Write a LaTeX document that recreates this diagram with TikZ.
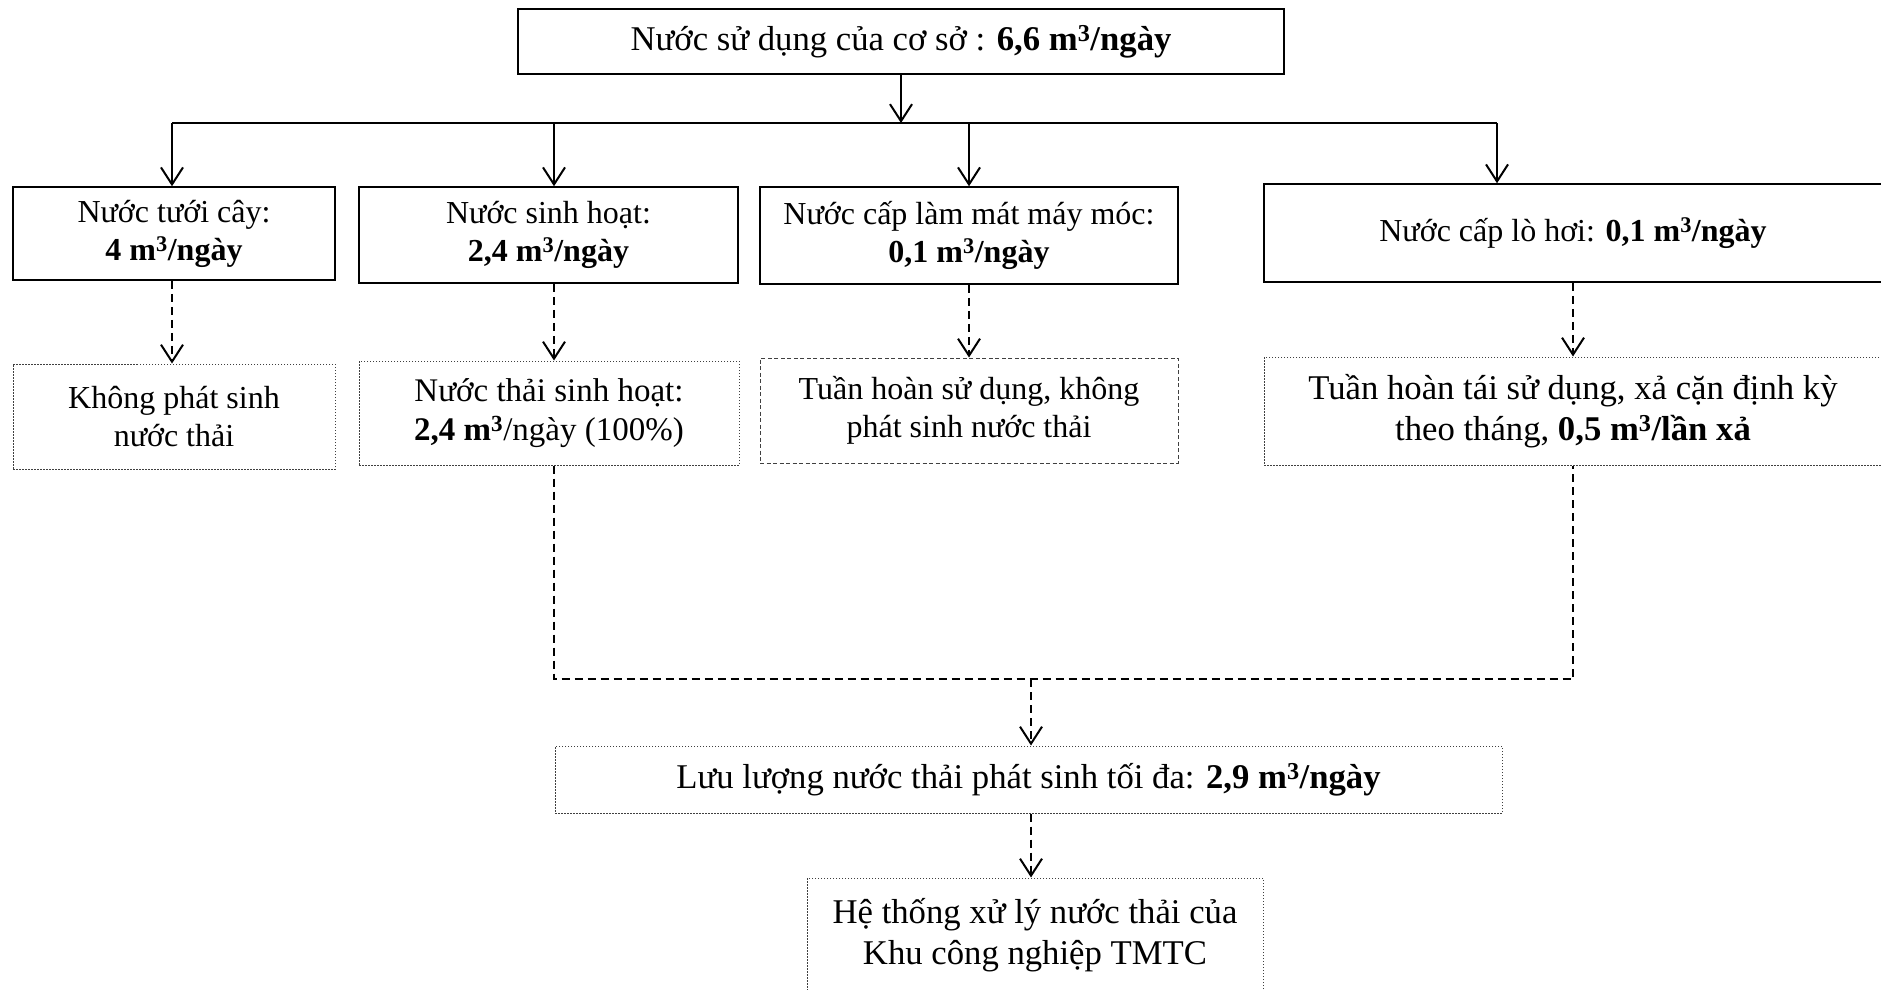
\documentclass[tikz,border=0pt]{standalone}
\usepackage{fontspec}
\setmainfont{Liberation Serif}
\usetikzlibrary{arrows.meta}
\begin{document}
\begin{tikzpicture}[x=1pt,y=-1pt,
  box/.style={draw, line width=1.5pt, inner sep=0pt, align=center,
    font=\fontsize{32}{38}\selectfont},
  big/.style={font=\fontsize{34.7}{41}\selectfont},
  dotbox/.style={box, draw=black!75, line width=1pt, dash pattern=on 1.5pt off 1.5pt},
  dashbox/.style={box, draw=black!75, line width=1pt, dash pattern=on 4pt off 2.5pt},
  conn/.style={line width=2pt},
  dconn/.style={line width=2pt, dash pattern=on 8pt off 5pt},
  tip/.style={-{Straight Barb[length=17pt,width=22pt,line width=2pt]}}]
\useasboundingbox (0,0) rectangle (1881,989);

\node[box, big, minimum width=766, minimum height=65] (top) at (901,41.5)
  {Nước sử dụng của cơ sở : \textbf{6,6 m\textsuperscript{3}/ngày}};

\node[box, minimum width=322, minimum height=93] (b1) at (174,233.5)
  {Nước tưới cây:\\ \textbf{4 m\textsuperscript{3}/ngày}};
\node[box, minimum width=379, minimum height=96] (b2) at (548.5,235)
  {Nước sinh hoạt:\\ \textbf{2,4 m\textsuperscript{3}/ngày}};
\node[box, minimum width=418, minimum height=97] (b3) at (969,235.5)
  {Nước cấp làm mát máy móc:\\ \textbf{0,1 m\textsuperscript{3}/ngày}};
\node[box, minimum width=618, minimum height=98] (b4) at (1573,233)
  {Nước cấp lò hơi: \textbf{0,1 m\textsuperscript{3}/ngày}};

\node[dotbox, minimum width=322, minimum height=105] (b5) at (174,416.5)
  {Không phát sinh\\ nước thải};
\node[dotbox, font=\fontsize{33}{39}\selectfont, minimum width=380, minimum height=104] (b6) at (549,413)
  {Nước thải sinh hoạt:\\ \textbf{2,4 m\textsuperscript{3}}/ngày (100\%)};
\node[dashbox, minimum width=418, minimum height=105] (b7) at (969,410.5)
  {Tuần hoàn sử dụng, không\\ phát sinh nước thải};
\node[dotbox, big, minimum width=618, minimum height=108] (b8) at (1573,411)
  {Tuần hoàn tái sử dụng, xả cặn định kỳ\\ theo tháng, \textbf{0,5 m\textsuperscript{3}/lần xả}};

\node[dotbox, big, minimum width=947, minimum height=67] (b9) at (1028.5,779.5)
  {Lưu lượng nước thải phát sinh tối đa: \textbf{2,9 m\textsuperscript{3}/ngày}};
\node[dotbox, big, minimum width=456, minimum height=114] (b10) at (1035,935)
  {Hệ thống xử lý nước thải của\\ Khu công nghiệp TMTC};

% solid distribution
\coordinate (hl) at (172,123);
\coordinate (hr) at (1497,123);
\coordinate (a2) at (554,123);
\draw[conn] (hl) -- (hr);
\draw[conn,tip] (top.south) -- (top.south |- hl);
\draw[conn,tip] (hl) -- (hl |- b1.north);
\draw[conn,tip] (a2) -- (a2 |- b2.north);
\draw[conn,tip] (b3.north |- hl) -- (b3.north);
\draw[conn,tip] (hr) -- (hr |- b4.north);

% dashed flows
\draw[dconn,tip] (hl |- b1.south) -- (hl |- b5.north);
\draw[dconn,tip] (a2 |- b2.south) -- (a2 |- b6.north);
\draw[dconn,tip] (b3.south) -- (b7.north);
\draw[dconn,tip] (b4.south) -- (b8.north);

\coordinate (m1) at (554,679);
\coordinate (m2) at (1573,679);
\coordinate (m3) at (1031,679);
\draw[dconn] (a2 |- b6.south) -- (m1) -- (m2) -- (b8.south);
\draw[dconn,tip] (m3) -- (m3 |- b9.north);
\draw[dconn,tip] (m3 |- b9.south) -- (m3 |- b10.north);
\end{tikzpicture}
\end{document}
